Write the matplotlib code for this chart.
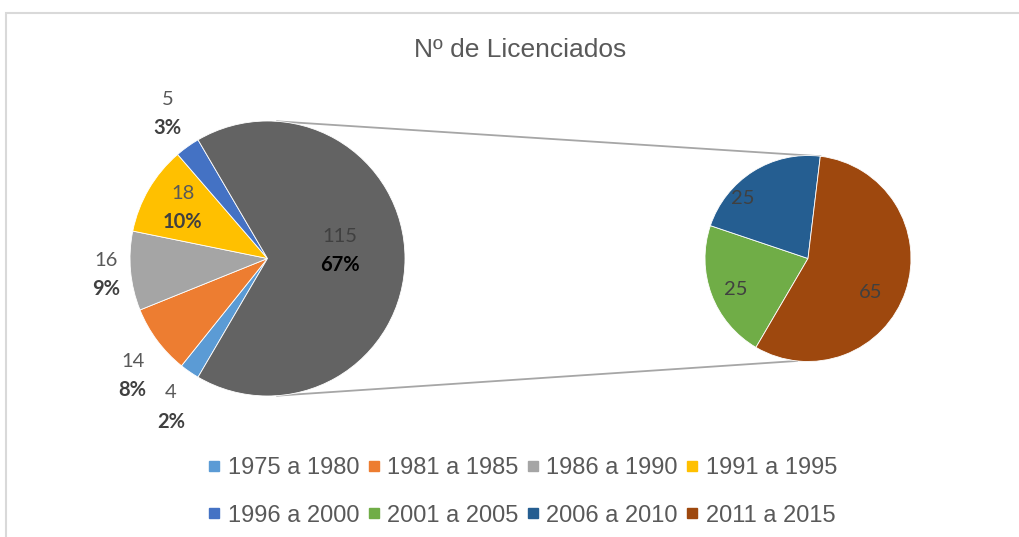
import numpy as np
import matplotlib
matplotlib.use("Agg")
import matplotlib.pyplot as plt
from matplotlib.lines import Line2D
from matplotlib.patches import Rectangle

# data
main_labels = ["1975 a 1980", "1981 a 1985", "1986 a 1990", "1991 a 1995", "1996 a 2000"]
main_values = [4, 14, 16, 18, 5]
sub_labels = ["2001 a 2005", "2006 a 2010", "2011 a 2015"]
sub_values = [25, 25, 65]

main_colors = ["#5B9BD5", "#ED7D31", "#A5A5A5", "#FFC000", "#4472C4"]
other_color = "#636363"
sub_colors = ["#70AD47", "#255E91", "#9E480E"]

W, H = 1019, 537
def Y(py):
    return H - py

fig = plt.figure(figsize=(W / 100, H / 100), dpi=100)
ax = fig.add_axes([0, 0, 1, 1])
ax.set_axis_off()

# chart border
ax.add_patch(Rectangle((6, Y(H + 10)), W, H - 3, fill=False, edgecolor="#d9d9d9", lw=1.5, zorder=0))

other = sum(sub_values)
total = sum(main_values) + other
vals = main_values + [other]
start = 360 - 360 * other / total / 2

c1, r1 = (267.5, Y(258.5)), 137.5
c2, r2 = (808, Y(258.5)), 103

wp = dict(edgecolor="white", linewidth=0.6)
w1, _ = ax.pie(vals, colors=main_colors + [other_color], startangle=start,
               counterclock=False, center=c1, radius=r1, wedgeprops=wp)
w2, _ = ax.pie(sub_values, colors=sub_colors, startangle=start,
               counterclock=False, center=c2, radius=r2, wedgeprops=wp)

# connector lines
def pt(c, r, a):
    return c[0] + r * np.cos(np.radians(a)), c[1] + r * np.sin(np.radians(a))

top_a = w2[-1].theta2
for a_main, a_sub in [(86, top_a), (-86, -96)]:
    p, q = pt(c1, r1, a_main), pt(c2, r2, a_sub)
    ax.plot([p[0], q[0]], [p[1], q[1]], color="#a6a6a6", lw=1.3, zorder=0.5)

lab_font = ["Lato", "DejaVu Sans"]
# label placement (angle, fraction of radius)
main_pos = [(237, 1.29), (221, 1.30), (185.7, 1.18), (149, 0.72), (124.6, 1.28), (6.3, 0.53)]
for i, v in enumerate(vals):
    x, y = pt(c1, r1 * main_pos[i][1], main_pos[i][0])
    pct = round(v / total * 100)
    vcol = "#404040" if i == len(vals) - 1 else "#595959"
    pcol = "black" if i == len(vals) - 1 else "#404040"
    ax.text(x, y + 14.5, str(v), ha="center", va="center", fontsize=14.5, color=vcol, family=lab_font)
    ax.text(x, y - 14.5, f"{pct}%", ha="center", va="center", fontsize=14.5, color=pcol,
            weight="bold", family=lab_font)

sub_pos = [(203, 0.76), (137, 0.86), (-28.7, 0.69)]
for i, v in enumerate(sub_values):
    x, y = pt(c2, r2 * sub_pos[i][1], sub_pos[i][0])
    ax.text(x, y, str(v), ha="center", va="center", fontsize=14.5, color="#404040", family=lab_font)

ax.set_xlim(0, W)
ax.set_ylim(0, H)
ax.set_aspect("equal")

ax.text(520, Y(50), "Nº de Licenciados", ha="center", va="center", fontsize=19,
        color="#595959", family="Liberation Sans")

# legend, row-major
names = main_labels + sub_labels
cols = main_colors + sub_colors
handles = [Line2D([], [], ls="none", marker="s", markersize=7.5, color=c) for c in cols]
order = [0, 4, 1, 5, 2, 6, 3, 7]
leg = fig.legend([handles[i] for i in order], [names[i] for i in order], ncol=4,
                 loc="center", bbox_to_anchor=(522.5 / W, 1 - 492 / H), frameon=False,
                 prop={"family": "Liberation Sans", "size": 17}, handlelength=0.55,
                 handletextpad=0.3, columnspacing=0.33, labelspacing=1.07)
for t in leg.get_texts():
    t.set_color("#595959")

fig.savefig("out.png", dpi=100)
